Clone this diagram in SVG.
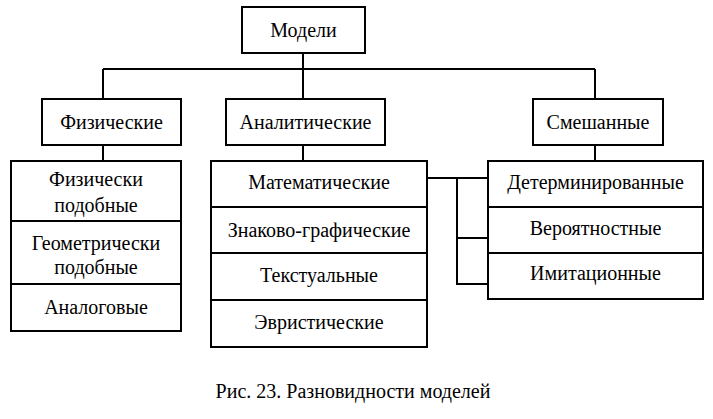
<svg xmlns="http://www.w3.org/2000/svg" width="713" height="419" viewBox="0 0 713 419">
<style>
.b{fill:#fff;stroke:#000;stroke-width:2}
.d{stroke:#000;stroke-width:2;fill:none}
</style>
<rect width="713" height="419" fill="#fff"/>
<g id="connectors" class="d">
<path d="M303 53V99"/>
<path d="M103 69H595"/>
<path d="M103 69V99"/>
<path d="M595 69V99"/>
<path d="M103 145V161"/>
<path d="M303 145V161"/>
<path d="M595 145V161"/>
<path d="M427 178H488"/>
<path d="M457 178V284H488"/>
<path d="M457 238H488"/>
</g>
<g id="models"><rect class="b" x="242" y="7" width="123" height="46"/><text font-family="Liberation Serif" font-size="20" text-anchor="middle" x="303.5" y="37">Модели</text></g>
<g id="physical"><rect class="b" x="42" y="99" width="139" height="46"/><text font-family="Liberation Serif" font-size="20" text-anchor="middle" x="111.5" y="129">Физические</text></g>
<g id="analytical"><rect class="b" x="226" y="99" width="159" height="46"/><text font-family="Liberation Serif" font-size="20" text-anchor="middle" x="305.5" y="129">Аналитические</text></g>
<g id="mixed"><rect class="b" x="533" y="99" width="130" height="46"/><text font-family="Liberation Serif" font-size="20" text-anchor="middle" x="598" y="129">Смешанные</text></g>
<g id="physical-list">
<rect class="b" x="11" y="161" width="170" height="170"/>
<path class="d" d="M11 221H181M11 284H181"/>
<text font-family="Liberation Serif" font-size="20" text-anchor="middle" x="96" y="186">Физически</text>
<text font-family="Liberation Serif" font-size="20" text-anchor="middle" x="96" y="212">подобные</text>
<text font-family="Liberation Serif" font-size="20" text-anchor="middle" x="96" y="250">Геометрически</text>
<text font-family="Liberation Serif" font-size="20" text-anchor="middle" x="96" y="274">подобные</text>
<text font-family="Liberation Serif" font-size="20" text-anchor="middle" x="96" y="314">Аналоговые</text>
</g>
<g id="analytical-list">
<rect class="b" x="211" y="161" width="216" height="186"/>
<path class="d" d="M211 207H427M211 253H427M211 300H427"/>
<text font-family="Liberation Serif" font-size="20" text-anchor="middle" x="319" y="189">Математические</text>
<text font-family="Liberation Serif" font-size="20" text-anchor="middle" x="319" y="237">Знаково-графические</text>
<text font-family="Liberation Serif" font-size="20" text-anchor="middle" x="319" y="282">Текстуальные</text>
<text font-family="Liberation Serif" font-size="20" text-anchor="middle" x="319" y="329">Эвристические</text>
</g>
<g id="mixed-list">
<rect class="b" x="488" y="161" width="215" height="138"/>
<path class="d" d="M488 207H703M488 253H703"/>
<text font-family="Liberation Serif" font-size="20" text-anchor="middle" x="595.5" y="189">Детерминированные</text>
<text font-family="Liberation Serif" font-size="20" text-anchor="middle" x="595.5" y="235">Вероятностные</text>
<text font-family="Liberation Serif" font-size="20" text-anchor="middle" x="595.5" y="280">Имитационные</text>
</g>
<g id="caption"><text font-family="Liberation Serif" font-size="20" text-anchor="middle" x="353" y="398">Рис. 23. Разновидности моделей</text></g>
</svg>
